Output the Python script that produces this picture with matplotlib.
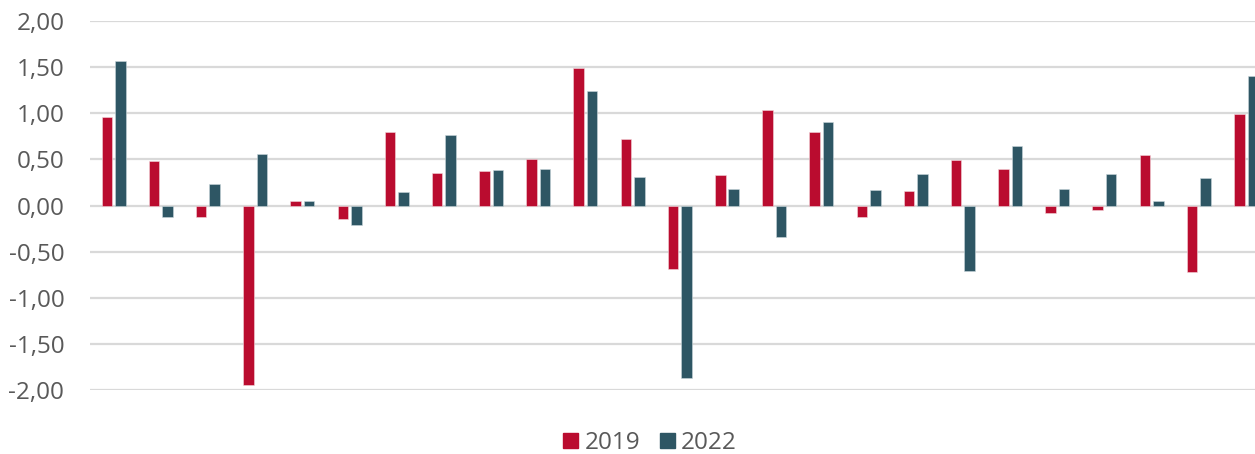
import matplotlib

matplotlib.use("Agg")
import matplotlib.pyplot as plt
import numpy as np
from matplotlib.patches import Patch
from matplotlib.ticker import FuncFormatter

# values, 25 categories (last one cut at the right edge)
values_2019 = [0.96, 0.48, -0.12, -1.94, 0.05, -0.14, 0.80, 0.35, 0.37, 0.50,
               1.49, 0.72, -0.69, 0.33, 1.04, 0.80, -0.12, 0.16, 0.49, 0.40,
               -0.08, -0.05, 0.55, -0.72, 0.99]
values_2022 = [1.57, -0.12, 0.23, 0.56, 0.05, -0.21, 0.15, 0.77, 0.39, 0.40,
               1.24, 0.31, -1.87, 0.18, -0.34, 0.91, 0.17, 0.34, -0.71, 0.65,
               0.18, 0.34, 0.05, 0.30, 1.40]
series_labels = ["2019", "2022"]
y_ticks = [-2.0, -1.5, -1.0, -0.5, 0.0, 0.5, 1.0, 1.5, 2.0]

RED = "#BA0C2F"
TEAL = "#2E5664"
GRID = "#D9D9D9"
TEXT = "#595959"

plt.rcParams["font.family"] = ["Open Sans", "DejaVu Sans"]

fig = plt.figure(figsize=(12.55, 4.54), dpi=100)
ax = fig.add_axes([90 / 1255, 1 - 390.3 / 454, 1 - 90 / 1255, (390.3 - 21) / 454])

x = np.arange(len(values_2019))
w = 0.223
off = 0.143
ax.bar(x - off, values_2019, width=w, color=RED, edgecolor="#f3d6dc", linewidth=0.4, zorder=3)
ax.bar(x + off, values_2022, width=w, color=TEAL, edgecolor="#c9d6db", linewidth=0.4, zorder=3)

ax.set_xlim(-0.5, 24.19)
ax.set_ylim(-2, 2)
ax.set_yticks(y_ticks)
ax.yaxis.set_major_formatter(FuncFormatter(lambda v, _: f"{v:.2f}".replace(".", ",")))
ax.set_xticks([])
ax.grid(axis="y", color=GRID, linewidth=1.6, zorder=0)
ax.tick_params(axis="y", length=0, pad=18.5, labelsize=17.5, labelcolor=TEXT)
for s in ax.spines.values():
    s.set_visible(False)

handles = [Patch(color=RED), Patch(color=TEAL)]
fig.legend(handles, series_labels, loc="center", bbox_to_anchor=(650 / 1255, 1 - 443 / 454),
           ncol=2, frameon=False, fontsize=17.5, labelcolor=TEXT,
           handlelength=0.62, handleheight=0.62, handletextpad=0.25, columnspacing=0.8)

fig.savefig("out.png", dpi=100)
